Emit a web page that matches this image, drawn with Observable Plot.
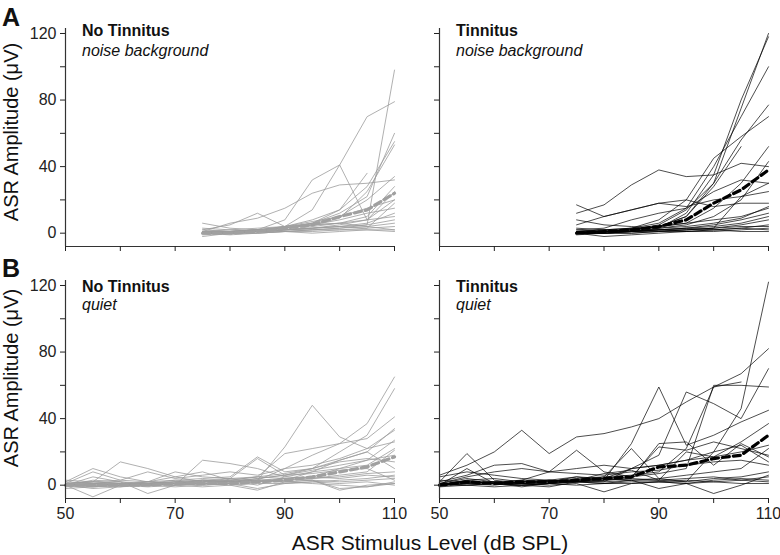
<!DOCTYPE html>
<html><head><meta charset="utf-8">
<script src="https://cdn.jsdelivr.net/npm/d3@7"></script>
<script src="https://cdn.jsdelivr.net/npm/@observablehq/plot@0.6"></script>
<style>
body{margin:0;background:#fff;}
#chart{position:relative;width:780px;height:555px;overflow:hidden;background:#fff;font-family:"Liberation Sans",Arial,Helvetica,sans-serif;}
</style></head><body><div id="chart"></div>
<script>
// ---- data ----
const levelsNoise = [75,80,85,90,95,100,105,110];
const levelsQuiet = [50,55,60,65,70,75,80,85,90,95,100,105,110];

const noTinNoise = [
  [0,0,1,2,3,4,5,98],
  [1,1,2,8,32,41,70,79],
  [0,1,1,4,14,41,8,20],
  [0,0,1,3,6,12,22,60],
  [1,1,2,4,8,14,28,55],
  [0,1,2,3,5,9,25,53],
  [2,5,12,4,5,6,8,10],
  [1,6,9,15,24,29,30,32],
  [0,1,2,3,6,14,36,null],
  [0,1,2,3,5,8,12,15],
  [1,2,3,4,6,10,20,34],
  [0,0,1,2,4,6,10,28],
  [0,1,1,2,3,5,8,25],
  [-1,0,1,2,3,4,6,12],
  [0,0,0,1,2,3,5,8],
  [1,1,1,2,2,3,4,6],
  [-2,0,1,1,2,2,3,4],
  [0,0,0,1,1,2,2,2],
  [3,2,1,2,3,4,3,18],
  [6,3,2,3,5,6,4,2],
  [0,-1,0,1,0,1,2,1],
  [2,1,2,4,7,10,15,20]
];
const noTinNoiseMean = [0,0,1,3,5,10,14,24];

const tinNoise = [
  [0,1,2,4,10,30,75,120],
  [0,0,1,3,12,35,80,118],
  [1,2,3,6,15,40,70,100],
  [0,1,2,5,14,30,56,77],
  [1,1,3,8,20,45,58,70],
  [0,1,2,4,10,28,52,null],
  [12,17,29,38,34,35,42,40],
  [2,3,8,12,15,25,32,30],
  [0,1,2,4,6,15,30,52],
  [0,0,1,3,5,10,20,43],
  [17,10,14,18,16,20,22,25],
  [5,10,14,18,20,16,18,18],
  [1,2,3,4,6,8,10,15],
  [0,1,1,2,3,5,8,12],
  [0,0,1,2,3,4,6,10],
  [-1,0,0,1,2,3,5,8],
  [0,-2,-1,0,1,2,3,5],
  [2,1,1,2,2,3,4,4],
  [0,0,0,1,1,1,2,3],
  [1,1,2,2,3,2,3,2],
  [3,2,1,2,1,2,1,1],
  [8,5,4,3,4,6,9,16],
  [0,0,1,1,2,3,22,30]
];
const tinNoiseMean = [0,1,2,4,8,18,26,38];

const noTinQuiet = [
  [0,5,2,0,1,2,3,5,19,22,25,37,65],
  [1,-1,0,1,2,3,2,4,6,10,20,30,58],
  [0,2,1,0,2,3,2,3,23,48,29,22,33],
  [0,1,0,1,2,1,2,3,10,18,25,28,41],
  [2,10,5,2,3,4,5,17,8,10,15,20,34],
  [0,-7,0,2,5,8,3,0,5,8,10,15,27],
  [1,2,14,10,5,2,3,5,4,5,10,12,22],
  [0,3,2,-5,0,15,13,10,5,4,6,8,21],
  [-1,0,1,0,1,1,1,2,3,8,15,20,10],
  [0,1,0,1,0,1,2,3,3,4,5,7,8],
  [1,0,-1,0,1,0,1,-2,1,2,3,4,6],
  [0,-1,0,0,-1,0,1,2,2,3,2,3,4],
  [2,1,1,2,1,2,2,3,2,3,-2,-1,2],
  [0,0,1,1,2,1,3,2,4,3,-3,0,1],
  [-2,-1,0,-1,0,1,0,1,1,2,1,2,0],
  [1,2,1,0,1,3,2,4,6,9,12,15,18],
  [0,1,2,1,3,2,4,5,7,10,14,16,14],
  [3,2,3,2,1,3,4,3,4,5,4,6,5],
  [0,1,0,2,8,5,4,16,6,7,9,10,3],
  [0,-2,-1,1,0,-1,0,-3,2,1,0,-1,1],
  [1,8,3,8,4,6,8,6,10,12,16,22,26]
];
const noTinQuietMean = [0,0,0,0,1,1,1,2,3,5,8,11,17];

const tinQuiet = [
  [0,3,4,2,3,5,4,10,12,15,20,46,122],
  [6,12,20,33,19,29,31,35,40,50,59,67,82],
  [1,4,2,1,2,5,3,25,59,24,30,38,45],
  [0,2,1,0,1,3,2,10,18,56,49,40,70],
  [0,1,2,3,2,4,5,6,8,22,59,62,null],
  [1,2,2,1,3,2,4,5,7,10,60,60,59],
  [0,10,1,3,8,21,8,5,23,21,26,22,18],
  [2,19,3,1,2,3,7,9,3,20,17,26,37],
  [0,3,1,-1,1,2,5,22,4,2,20,24,14],
  [1,0,1,0,-1,2,1,3,4,6,8,10,22],
  [0,2,1,1,0,1,-4,1,2,1,-5,0,6],
  [0,1,0,2,2,3,4,3,-2,1,3,4,3],
  [-1,0,1,0,1,2,2,3,3,4,5,3,5],
  [0,1,2,1,1,2,3,4,3,2,4,5,8],
  [3,2,1,2,3,2,1,2,2,1,2,3,2],
  [0,0,-1,0,1,0,1,1,2,3,2,1,1],
  [1,5,8,10,8,7,6,8,9,12,14,15,12],
  [2,6,12,13,8,10,12,10,12,15,17,20,24],
  [5,8,6,4,3,2,3,4,25,26,12,25,17]
];
const tinQuietMean = [0,2,1,2,2,3,4,5,11,12,16,18,30];

const yTicksMajor = [0,40,80,120];
const yTicksMinor = [20,60,100];
const xTicks = [50,60,70,80,90,100,110];
const xTickLabels = [50,70,90,110];

const panelTitles = ["No Tinnitus","Tinnitus","No Tinnitus","Tinnitus"];
const panelSubtitles = ["noise background","noise background","quiet","quiet"];

// ---- drawing ----
const FONT = '"Liberation Sans", Arial, Helvetica, sans-serif';
const container = document.getElementById("chart");

function toRows(levels, series) {
  return series.flatMap((s, i) => s.map((v, j) => ({id: i, x: levels[j], y: v})));
}

function panel({levels, series, mean, stroke, sw, meanStroke, left, top, isLeft, isBottom}) {
  const mL = isLeft ? 65 : 15, mR = 12, mT = 8, mB = isBottom ? 35 : 8;
  const plot = Plot.plot({
    width: mL + 329 + mR,
    height: mT + 218 + mB,
    marginLeft: mL, marginRight: mR, marginTop: mT, marginBottom: mB,
    x: {domain: [50, 110]},
    y: {domain: [-8, 123]},
    style: {background: "none", overflow: "visible", fontFamily: FONT, fontSize: "16px", color: "#222"},
    marks: [
      Plot.line(toRows(levels, series), {x: "x", y: "y", z: "id", stroke, strokeWidth: sw}),
      Plot.line(mean.map((v, j) => ({x: levels[j], y: v})), {x: "x", y: "y", stroke: meanStroke, strokeWidth: 3.2, strokeDasharray: "7,4"}),
      Plot.ruleX([50], {stroke: "#333", strokeWidth: 1.2}),
      Plot.ruleY([-8], {stroke: "#333", strokeWidth: 1.2}),
      Plot.axisY({ticks: yTicksMajor, tickSize: 5, tickPadding: 4, tickFormat: isLeft ? (d => String(d)) : (() => ""), label: null}),
      Plot.axisY({ticks: yTicksMinor, tickSize: 5, tickFormat: () => "", label: null}),
      Plot.axisX({ticks: xTicks, tickSize: 5, tickPadding: 4, tickFormat: d => (isBottom && xTickLabels.includes(d)) ? String(d) : "", label: null})
    ]
  });
  plot.style.position = "absolute";
  plot.style.left = left + "px";
  plot.style.top = top + "px";
  container.append(plot);
}

const gray = "#9c9c9c";
panel({levels: levelsNoise, series: noTinNoise, mean: noTinNoiseMean, stroke: gray, sw: 0.8, meanStroke: "#a0a0a0", left: 0, top: 20, isLeft: true, isBottom: false});
panel({levels: levelsNoise, series: tinNoise, mean: tinNoiseMean, stroke: "#000", sw: 0.7, meanStroke: "#000", left: 424, top: 20, isLeft: false, isBottom: false});
panel({levels: levelsQuiet, series: noTinQuiet, mean: noTinQuietMean, stroke: gray, sw: 0.8, meanStroke: "#a0a0a0", left: 0, top: 272, isLeft: true, isBottom: true});
panel({levels: levelsQuiet, series: tinQuiet, mean: tinQuietMean, stroke: "#000", sw: 0.7, meanStroke: "#000", left: 424, top: 272, isLeft: false, isBottom: true});

// ---- text overlay ----
const svg = d3.select(container).append("svg")
  .attr("width", 780).attr("height", 555)
  .style("position", "absolute").style("left", 0).style("top", 0)
  .style("pointer-events", "none")
  .style("font-family", FONT);

const texts = [
  {t: "A", x: 2, y: 26, size: 25, weight: "bold"},
  {t: "B", x: 2, y: 277, size: 25, weight: "bold"},
  {t: panelTitles[0], x: 82, y: 36, size: 16, weight: "bold"},
  {t: panelSubtitles[0], x: 82, y: 56, size: 16, style: "italic"},
  {t: panelTitles[1], x: 456, y: 36, size: 16, weight: "bold"},
  {t: panelSubtitles[1], x: 456, y: 56, size: 16, style: "italic"},
  {t: panelTitles[2], x: 82, y: 292, size: 16, weight: "bold"},
  {t: panelSubtitles[2], x: 82, y: 310, size: 16, style: "italic"},
  {t: panelTitles[3], x: 456, y: 292, size: 16, weight: "bold"},
  {t: panelSubtitles[3], x: 456, y: 310, size: 16, style: "italic"},
  {t: "ASR Stimulus Level (dB SPL)", x: 430, y: 550, size: 21, anchor: "middle"}
];
for (const d of texts) {
  svg.append("text").text(d.t)
    .attr("x", d.x).attr("y", d.y)
    .attr("font-size", d.size)
    .attr("font-weight", d.weight || "normal")
    .attr("font-style", d.style || "normal")
    .attr("text-anchor", d.anchor || "start")
    .attr("fill", "#111");
}
for (const cy of [132, 378]) {
  svg.append("text").text("ASR Amplitude (\u03bcV)")
    .attr("transform", `translate(18,${cy}) rotate(-90)`)
    .attr("text-anchor", "middle")
    .attr("font-size", 20)
    .attr("fill", "#111");
}
</script>
</body></html>
